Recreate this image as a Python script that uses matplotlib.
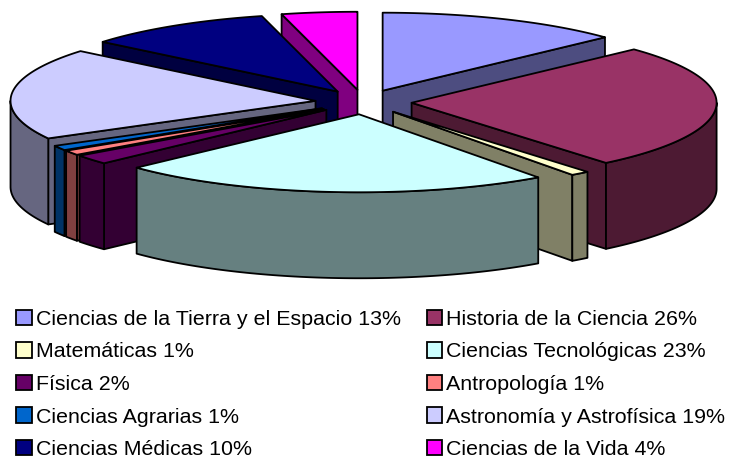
# Exploded 3D style pie with legend underneath

import matplotlib
matplotlib.use('Agg')
import matplotlib.pyplot as plt
from matplotlib.patches import Patch
import numpy as np

# ------ Data ------
names = ['Ciencias de la Tierra y el Espacio', 'Historia de la Ciencia', 'Matemáticas',
         'Ciencias Tecnológicas', 'Física', 'Antropología', 'Ciencias Agrarias',
         'Astronomía y Astrofísica', 'Ciencias Médicas', 'Ciencias de la Vida']
values = [13, 26, 1, 23, 2, 1, 1, 19, 10, 4]
colors = ['#9999FF', '#993366', '#FFFFCC', '#CCFFFF', '#660066',
          '#FF8080', '#0066CC', '#CCCCFF', '#000080', '#FF00FF']

# pie geometry in pixels
cx, cy = 363.5, 102
rx, ry = 305, 78
depth = 86
explode = 0.158
lw = 1.3

plt.rcParams['font.family'] = ['Liberation Sans', 'DejaVu Sans']

fig = plt.figure(figsize=(7.37, 4.59), dpi=100)
ax = fig.add_axes([0, 0, 1, 1])
ax.set_xlim(0, 737)
ax.set_ylim(459, 0)
ax.axis('off')


def rim(t, x0, y0):
    return x0 + rx * np.sin(t), y0 - ry * np.cos(t)


def face(xs, ys, color, zorder):
    ax.fill(xs, ys, facecolor=color, edgecolor='k', lw=lw, joinstyle='round', zorder=zorder)


def dark(color):
    return tuple(c / 2 for c in matplotlib.colors.to_rgb(color))


def draw_slice(t0, t1, color, zorder):
    mid = (t0 + t1) / 2
    x0 = cx + explode * rx * np.sin(mid)
    y0 = cy - explode * ry * np.cos(mid)
    side = dark(color)

    # flat cut faces, only the ones turned to the viewer
    if np.sin(t1) > 1e-6:
        x, y = rim(t1, x0, y0)
        face([x0, x, x, x0], [y0, y, y + depth, y0 + depth], side, zorder)
    if np.sin(t0) < -1e-6:
        x, y = rim(t0, x0, y0)
        face([x0, x, x, x0], [y0, y, y + depth, y0 + depth], side, zorder)

    # curved outer wall, front half only
    a, b = max(t0, np.pi / 2), min(t1, 3 * np.pi / 2)
    if b > a:
        t = np.linspace(a, b, 80)
        x, y = rim(t, x0, y0)
        face(np.r_[x, x[::-1]], np.r_[y, y[::-1] + depth], side, zorder)

    # top
    t = np.linspace(t0, t1, 120)
    x, y = rim(t, x0, y0)
    face(np.r_[x0, x], np.r_[y0, y], color, zorder)


edges = np.r_[0, np.cumsum(values)] / sum(values) * 2 * np.pi
mids = (edges[:-1] + edges[1:]) / 2

# back slices first
order = np.argsort(-np.cos(mids))
for z, i in enumerate(order):
    draw_slice(edges[i], edges[i + 1], colors[i], 2 + z)

# legend fills column by column, the picture reads row by row
labels = [f'{n} {v}%' for n, v in zip(names, values)]
handles = [Patch(facecolor=c, edgecolor='k', lw=1.3) for c in colors]
idx = list(range(0, 10, 2)) + list(range(1, 10, 2))
ax.legend([handles[i] for i in idx], [labels[i] for i in idx], ncols=2, frameon=False,
          loc='upper left', bbox_to_anchor=(16, 309.5), bbox_transform=ax.transData,
          fontsize=15.4, handlelength=0.73, handleheight=0.73, handletextpad=0.2,
          labelspacing=0.63, columnspacing=1.2, borderpad=0, borderaxespad=0, labelcolor='k')

plt.savefig('out.png', dpi=100)
